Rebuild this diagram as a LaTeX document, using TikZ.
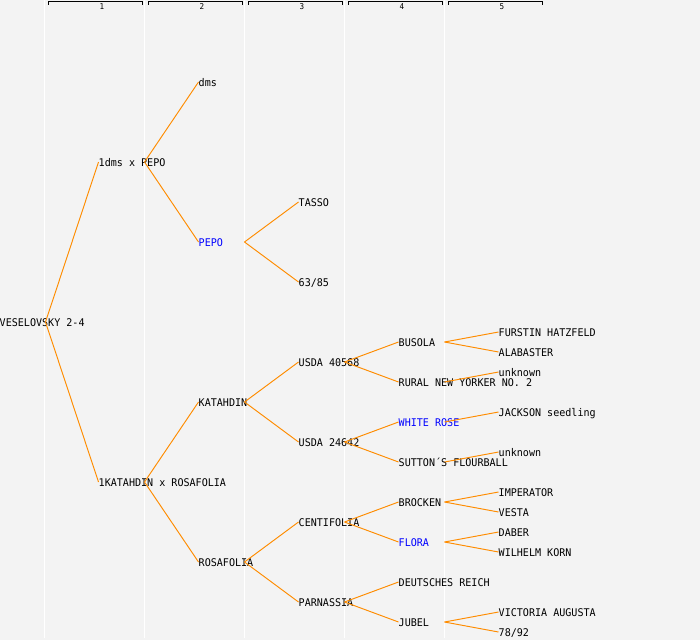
\documentclass[tikz,border=0pt]{standalone}
\usepackage{fontspec}
\setmonofont[FakeStretch=0.95]{DejaVu Sans Mono}
\usepackage{tikz}
\usetikzlibrary{positioning}
\definecolor{pagebg}{HTML}{F3F3F3}
\definecolor{lineorange}{HTML}{FF8C00}
\definecolor{namblue}{HTML}{0000FF}
\tikzset{
    plant/.style={
           anchor=west,
           inner sep=0pt,
           text height=9.4pt,
           text depth=0pt,
           font=\ttfamily\fontsize{10.6}{12}\selectfont,
           },
    marked/.style={plant, text=namblue},
    gennum/.style={
           inner sep=0pt,
           font=\ttfamily\fontsize{8}{9}\selectfont,
           },
}

\begin{document}
\begin{tikzpicture}[x=1pt,y=-1pt,
    every edge/.style={draw=lineorange, line width=0.95pt}]

    \fill[pagebg] (0,0) rectangle (700,640);
    \useasboundingbox (0,0) rectangle (700,640);

    % generation columns
    \foreach \g in {1,...,5} {
        \draw[white, line width=1pt] (100*\g-55.5,0) -- (100*\g-55.5,638);
        \draw[black, line width=0.9pt] (100*\g-52,4.5) -- (100*\g-52,1.5)
            -- (100*\g+42,1.5) -- (100*\g+42,4.5);
        \node[gennum] (head\g) at (100*\g+2,6.5) {\g};
    }

    % generation 0 and 1
    \node[plant] (vesel) at (-0.5,322) {VESELOVSKY 2-4};
    \node[plant] (dmsxpepo) at (98.5,162) {1dms x PEPO};
    \node[plant] (katxrosa) at (98.5,482) {1KATAHDIN x ROSAFOLIA};

    % generation 2
    \node[plant]  (dms) at (198.5,82) {dms};
    \node[marked] (pepo) at (198.5,242) {PEPO};
    \node[plant]  (katahdin) at (198.5,402) {KATAHDIN};
    \node[plant]  (rosafolia) at (198.5,562) {ROSAFOLIA};

    % generation 3
    \node[plant] (tasso) at (298.5,202) {TASSO};
    \node[plant] (n6385) at (298.5,282) {63/85};
    \node[plant] (usda40568) at (298.5,362) {USDA 40568};
    \node[plant] (usda24642) at (298.5,442) {USDA 24642};
    \node[plant] (centifolia) at (298.5,522) {CENTIFOLIA};
    \node[plant] (parnassia) at (298.5,602) {PARNASSIA};

    % generation 4
    \node[plant]  (busola) at (398.5,342) {BUSOLA};
    \node[plant]  (rural) at (398.5,382) {RURAL NEW YORKER NO. 2};
    \node[marked] (whiterose) at (398.5,422) {WHITE ROSE};
    \node[plant]  (sutton) at (398.5,462) {SUTTON´S FLOURBALL};
    \node[plant]  (brocken) at (398.5,502) {BROCKEN};
    \node[marked] (flora) at (398.5,542) {FLORA};
    \node[plant]  (deutsches) at (398.5,582) {DEUTSCHES REICH};
    \node[plant]  (jubel) at (398.5,622) {JUBEL};

    % generation 5
    \node[plant] (furstin) at (498.5,332) {FURSTIN HATZFELD};
    \node[plant] (alabaster) at (498.5,352) {ALABASTER};
    \node[plant] (unknownA) at (498.5,372) {unknown};
    \node[plant] (jackson) at (498.5,412) {JACKSON seedling};
    \node[plant] (unknownB) at (498.5,452) {unknown};
    \node[plant] (imperator) at (498.5,492) {IMPERATOR};
    \node[plant] (vesta) at (498.5,512) {VESTA};
    \node[plant] (daber) at (498.5,532) {DABER};
    \node[plant] (wilhelm) at (498.5,552) {WILHELM KORN};
    \node[plant] (victoria) at (498.5,612) {VICTORIA AUGUSTA};
    \node[plant] (n7892) at (498.5,632) {78/92};

    % fork points at the column edge
    \foreach \n in {vesel,dmsxpepo,katxrosa,pepo,katahdin,rosafolia,
                    usda40568,usda24642,centifolia,parnassia,
                    busola,rural,whiterose,sutton,brocken,flora,jubel}
        \coordinate[right=46pt of \n.west] (\n-f);

    \path (vesel-f) edge (dmsxpepo.west) edge (katxrosa.west);
    \path (dmsxpepo-f) edge (dms.west) edge (pepo.west);
    \path (katxrosa-f) edge (katahdin.west) edge (rosafolia.west);
    \path (pepo-f) edge (tasso.west) edge (n6385.west);
    \path (katahdin-f) edge (usda40568.west) edge (usda24642.west);
    \path (rosafolia-f) edge (centifolia.west) edge (parnassia.west);
    \path (usda40568-f) edge (busola.west) edge (rural.west);
    \path (usda24642-f) edge (whiterose.west) edge (sutton.west);
    \path (centifolia-f) edge (brocken.west) edge (flora.west);
    \path (parnassia-f) edge (deutsches.west) edge (jubel.west);
    \path (busola-f) edge (furstin.west) edge (alabaster.west);
    \path (rural-f) edge (unknownA.west);
    \path (whiterose-f) edge (jackson.west);
    \path (sutton-f) edge (unknownB.west);
    \path (brocken-f) edge (imperator.west) edge (vesta.west);
    \path (flora-f) edge (daber.west) edge (wilhelm.west);
    \path (jubel-f) edge (victoria.west) edge (n7892.west);

\end{tikzpicture}
\end{document}
